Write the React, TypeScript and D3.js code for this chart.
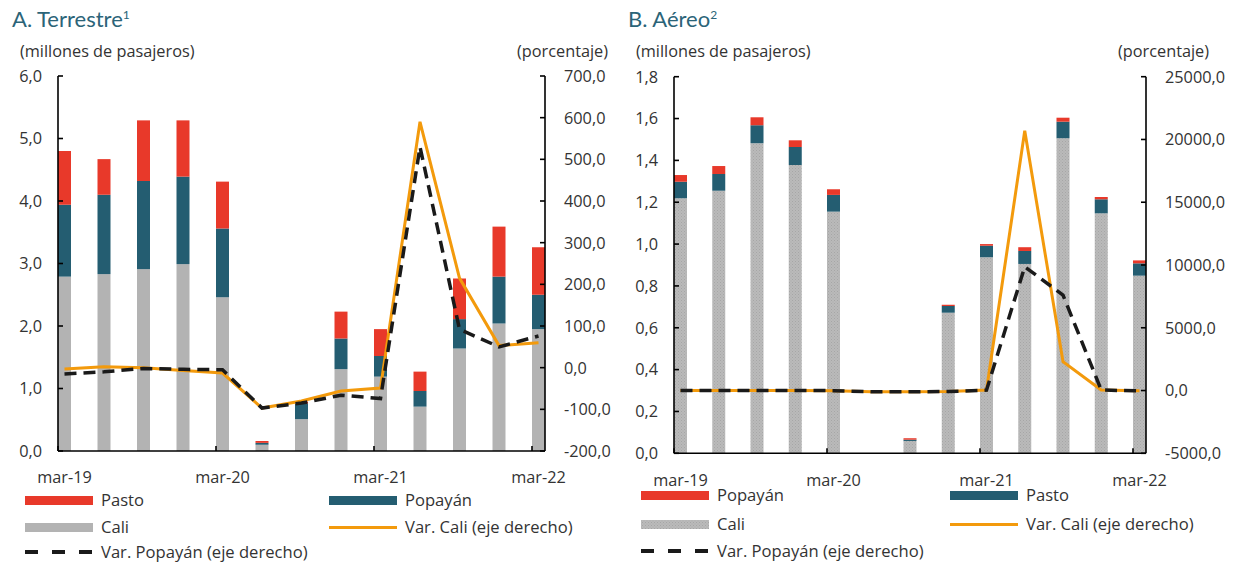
import React, { useEffect, useRef } from 'react';
import * as d3 from 'd3';

const quarters = ['mar-19', 'jun-19', 'sep-19', 'dic-19', 'mar-20', 'jun-20', 'sep-20', 'dic-20', 'mar-21', 'jun-21', 'sep-21', 'dic-21', 'mar-22'];
const xTickLabels = ['mar-19', 'mar-20', 'mar-21', 'mar-22'];

// A. Terrestre (millones de pasajeros / porcentaje)
const caliT = [2.79, 2.83, 2.91, 2.99, 2.46, 0.10, 0.51, 1.31, 1.19, 0.71, 1.64, 2.04, 1.95];
const popayanT = [1.15, 1.27, 1.41, 1.40, 1.10, 0.03, 0.25, 0.49, 0.33, 0.25, 0.47, 0.75, 0.55];
const pastoT = [0.86, 0.57, 0.97, 0.90, 0.75, 0.03, 0.03, 0.43, 0.43, 0.31, 0.65, 0.80, 0.76];
const varCaliT = [-3, 2, 0, -7, -13, -97, -80, -56, -49, 590, 215, 53, 60];
const varPopayanT = [-15, -10, -2, -4, -5, -97, -85, -66, -74, 530, 92, 50, 76];

// B. Aéreo
const caliA = [1.219, 1.255, 1.482, 1.378, 1.155, 0, 0.059, 0.672, 0.937, 0.905, 1.506, 1.147, 0.849];
const pastoA = [0.079, 0.080, 0.086, 0.086, 0.080, 0, 0.006, 0.032, 0.055, 0.062, 0.079, 0.067, 0.059];
const popayanA = [0.032, 0.038, 0.038, 0.032, 0.027, 0, 0.007, 0.006, 0.008, 0.018, 0.019, 0.011, 0.014];
const varCaliA = [5, 8, 6, 4, -10, -100, -97, -80, 40, 20700, 2300, 40, -20];
const varPopayanA = [5, 8, 6, 4, -10, -100, -97, -80, 30, 9860, 7600, 40, -30];

const RED = '#e8392a';
const BLUE = '#245d71';
const GRAY = '#b3b3b3';
const ORANGE = '#f39a0c';
const TITLE = '#2b6478';
const TXT = '#333333';
const FONT = '"Open Sans", Lato, sans-serif';

const fmt = (d: number) => d3.format('.1f')(d).replace('.', ',').replace('−', '-');

interface PanelCfg {
  title: string;
  sup: string;
  left: [number, number];
  rightX: number;
  top: number;
  bottom: number;
  yMax: number;
  yStep: number;
  rMin: number;
  rMax: number;
  rStep: number;
  cali: number[];
  mid: number[];
  topS: number[];
  midName: string;
  topName: string;
  varCali: number[];
  varPop: number[];
  labelY: number;
  legendRows: number[];
  legendX2: number;
  hatch: boolean;
}

const panels: PanelCfg[] = [
  {
    title: 'A. Terrestre', sup: '1', left: [58, 532], rightX: 545, top: 76, bottom: 451,
    yMax: 6, yStep: 1, rMin: -200, rMax: 700, rStep: 100,
    cali: caliT, mid: popayanT, topS: pastoT, midName: 'Popayán', topName: 'Pasto',
    varCali: varCaliT, varPop: varPopayanT, labelY: 483, legendRows: [500.5, 527.5, 552], legendX2: 329, hatch: false,
  },
  {
    title: 'B. Aéreo', sup: '2', left: [674, 1133], rightX: 1146, top: 76.7, bottom: 453.3,
    yMax: 1.8, yStep: 0.2, rMin: -5000, rMax: 25000, rStep: 5000,
    cali: caliA, mid: pastoA, topS: popayanA, midName: 'Pasto', topName: 'Popayán',
    varCali: varCaliA, varPop: varPopayanA, labelY: 486, legendRows: [495.5, 524.5, 551], legendX2: 950, hatch: true,
  },
];

export default function App() {
  const svgRef = useRef<SVGSVGElement>(null);

  useEffect(() => {
    if (!svgRef.current) return;
    const svg = d3.select(svgRef.current);
    svg.selectAll('*').remove();

    const defs = svg.append('defs');
    const pat = defs.append('pattern')
      .attr('id', 'caliHatch')
      .attr('patternUnits', 'userSpaceOnUse')
      .attr('width', 3).attr('height', 3);
    pat.append('rect').attr('width', 3).attr('height', 3).attr('fill', '#bababa');
    pat.append('rect').attr('x', 0).attr('y', 0).attr('width', 1).attr('height', 1).attr('fill', '#a6a6a6');
    pat.append('rect').attr('x', 1.5).attr('y', 1.5).attr('width', 1).attr('height', 1).attr('fill', '#acacac');

    const barW = 13;

    panels.forEach((p) => {
      const g = svg.append('g');
      const x = d3.scalePoint<string>().domain(quarters).range(p.left);
      const xL = p.left[0];
      const xR = p.rightX;
      const y = d3.scaleLinear().domain([0, p.yMax]).range([p.bottom, p.top]);
      const yr = d3.scaleLinear().domain([p.rMin, p.rMax]).range([p.bottom, p.top]);
      const caliFill = p.hatch ? 'url(#caliHatch)' : GRAY;

      // title
      const t = g.append('text')
        .attr('x', xL - 46).attr('y', 27)
        .attr('font-family', 'Lato, sans-serif').attr('font-size', 22)
        .attr('fill', TITLE).text(p.title);
      t.append('tspan').attr('dy', -8).attr('font-size', 12).text(p.sup);

      g.append('text')
        .attr('x', xL - 38).attr('y', 57)
        .attr('font-family', FONT).attr('font-size', 16.3).attr('fill', TXT)
        .text('(millones de pasajeros)');
      g.append('text')
        .attr('x', xR - 28).attr('y', 57)
        .attr('font-family', FONT).attr('font-size', 16.3).attr('fill', TXT)
        .text('(porcentaje)');

      // bars
      const stacked = quarters.map((q, i) => ({ q, c: p.cali[i], m: p.mid[i], t: p.topS[i] }));
      const bars = g.append('g');
      stacked.forEach((d) => {
        const bx = x(d.q)!;
        if (d.c + d.m + d.t <= 0) return;
        bars.append('rect').attr('x', bx).attr('width', barW)
          .attr('y', y(d.c)).attr('height', y(0) - y(d.c)).attr('fill', caliFill);
        bars.append('rect').attr('x', bx).attr('width', barW)
          .attr('y', y(d.c + d.m)).attr('height', y(d.c) - y(d.c + d.m)).attr('fill', BLUE);
        bars.append('rect').attr('x', bx).attr('width', barW)
          .attr('y', y(d.c + d.m + d.t)).attr('height', y(d.c + d.m) - y(d.c + d.m + d.t)).attr('fill', RED);
      });

      // lines
      const line = d3.line<number>()
        .x((_, i) => x(quarters[i])! + barW / 2)
        .y((d) => yr(d));
      g.append('path').attr('d', line(p.varCali)).attr('fill', 'none')
        .attr('stroke', ORANGE).attr('stroke-width', 3).attr('stroke-linejoin', 'miter');
      g.append('path').attr('d', line(p.varPop)).attr('fill', 'none')
        .attr('stroke', '#1a1a1a').attr('stroke-width', 3.5).attr('stroke-dasharray', '12,7');

      // axes
      const ax = g.append('g').attr('stroke', '#000').attr('stroke-width', 1.6);
      ax.append('line').attr('x1', xL).attr('x2', xL).attr('y1', p.top).attr('y2', p.bottom);
      ax.append('line').attr('x1', xR).attr('x2', xR).attr('y1', p.top).attr('y2', p.bottom);
      ax.append('line').attr('x1', xL).attr('x2', xR).attr('y1', p.bottom).attr('y2', p.bottom);

      const yTicks = d3.range(0, p.yMax + p.yStep / 2, p.yStep);
      yTicks.forEach((v) => {
        ax.append('line').attr('x1', xL).attr('x2', xL + 5).attr('y1', y(v)).attr('y2', y(v));
        g.append('text').attr('x', xL - 16).attr('y', y(v)).attr('dy', '0.36em')
          .attr('text-anchor', 'end').attr('font-family', FONT).attr('font-size', 16.3)
          .attr('fill', TXT).text(fmt(v));
      });
      const rTicks = d3.range(p.rMin, p.rMax + p.rStep / 2, p.rStep);
      rTicks.forEach((v) => {
        ax.append('line').attr('x1', xR).attr('x2', xR - 5).attr('y1', yr(v)).attr('y2', yr(v));
        g.append('text').attr('x', xR + 19).attr('y', yr(v)).attr('dy', '0.36em')
          .attr('font-family', FONT).attr('font-size', 16.3)
          .attr('fill', TXT).text(fmt(v));
      });
      xTickLabels.forEach((q) => {
        const tx = x(q)!;
        ax.append('line').attr('x1', tx).attr('x2', tx).attr('y1', p.bottom).attr('y2', p.bottom - 5);
        g.append('text').attr('x', tx + barW / 2).attr('y', p.labelY)
          .attr('text-anchor', 'middle').attr('font-family', FONT).attr('font-size', 16.3)
          .attr('fill', TXT).text(q);
      });

      // legend
      const lx1 = xL - 33;
      const lx2 = p.legendX2;
      const sw = 68;
      const [r1, r2, r3] = p.legendRows;
      const items: { x: number; y: number; kind: string; fill: string; label: string }[] = [
        { x: lx1, y: r1, kind: 'rect', fill: RED, label: p.topName },
        { x: lx2, y: r1, kind: 'rect', fill: BLUE, label: p.midName },
        { x: lx1, y: r2, kind: 'rect', fill: caliFill, label: 'Cali' },
        { x: lx2, y: r2, kind: 'line', fill: ORANGE, label: 'Var. Cali (eje derecho)' },
        { x: lx1, y: r3, kind: 'dash', fill: '#1a1a1a', label: 'Var. Popayán (eje derecho)' },
      ];
      const lg = g.append('g');
      items.forEach((it) => {
        if (it.kind === 'rect') {
          lg.append('rect').attr('x', it.x).attr('y', it.y - 4.5).attr('width', sw).attr('height', 9).attr('fill', it.fill);
        } else {
          lg.append('line').attr('x1', it.x).attr('x2', it.x + sw).attr('y1', it.y).attr('y2', it.y)
            .attr('stroke', it.fill).attr('stroke-width', it.kind === 'dash' ? 4 : 3)
            .attr('stroke-dasharray', it.kind === 'dash' ? '13,14' : null);
        }
        lg.append('text').attr('x', it.x + sw + 8).attr('y', it.y).attr('dy', '0.36em')
          .attr('font-family', FONT).attr('font-size', 16.6).attr('fill', TXT).text(it.label);
      });
    });
  }, []);

  return (
    <svg ref={svgRef} width={1236} height={562}
      style={{ position: 'absolute', left: 0, top: 0, background: '#fff', display: 'block' }} />
  );
}
